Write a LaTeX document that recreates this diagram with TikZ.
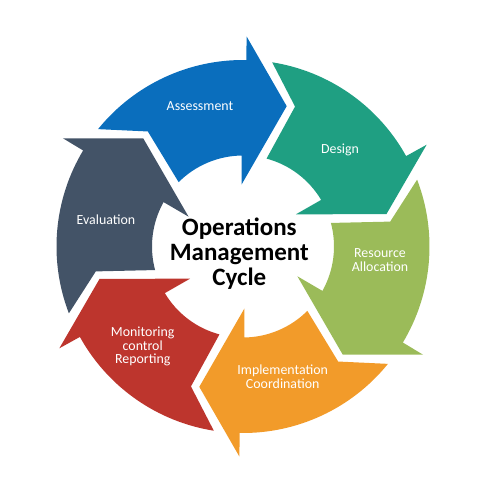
\documentclass[tikz,border=0pt]{standalone}
\usepackage{fontspec}
\setmainfont{Carlito}
\definecolor{cAssess}{HTML}{0A6EBD}
\definecolor{cDesign}{HTML}{1F9F82}
\definecolor{cResource}{HTML}{9BBB59}
\definecolor{cImpl}{HTML}{F29B2A}
\definecolor{cMonitor}{HTML}{BD352D}
\definecolor{cEval}{HTML}{435367}
\begin{document}
\begin{tikzpicture}[x=1pt,y=1pt,
  lbl/.style={text=white, align=center, inner sep=0pt, font=\fontsize{13.9}{13.6}\selectfont},
  centre/.style={text=black, align=center, inner sep=0pt, font=\fontsize{25}{25}\selectfont\bfseries}]
\useasboundingbox (-243,-254.5) rectangle (240,246.5);
% ring arrows: barb angle / colour
\foreach \b/\col in {90/cAssess, 30/cDesign, -30/cResource, -90/cImpl, -150/cMonitor, 150/cEval}{
  \fill[\col] (\b+51:186.5) arc[start angle=\b+51, end angle=\b-1, radius=186.5]
     -- (\b-1:210) -- (\b-17.3:147) -- (\b+1.3:62) -- (\b+0.8:91)
     arc[start angle=\b+0.8, end angle=\b+45, radius=91]
     -- (\b+39.6:149.3) -- cycle;
}
\node[lbl] (assess) at (-43,140.5) {Assessment};
\node[lbl] (design) at (97,96.5) {Design};
\node[lbl] (resource) at (137,-13.5) {Resource\\Allocation};
\node[lbl] (impl) at (39.7,-130.3) {Implementation\\Coordination};
\node[lbl] (monitor) at (-100.3,-100) {Monitoring\\control\\Reporting};
\node[lbl] (eval) at (-137,27.2) {Evaluation};
\node[centre] (cycle) at (-3.7,-7.5) {Operations\\Management\\Cycle};
\end{tikzpicture}
\end{document}
